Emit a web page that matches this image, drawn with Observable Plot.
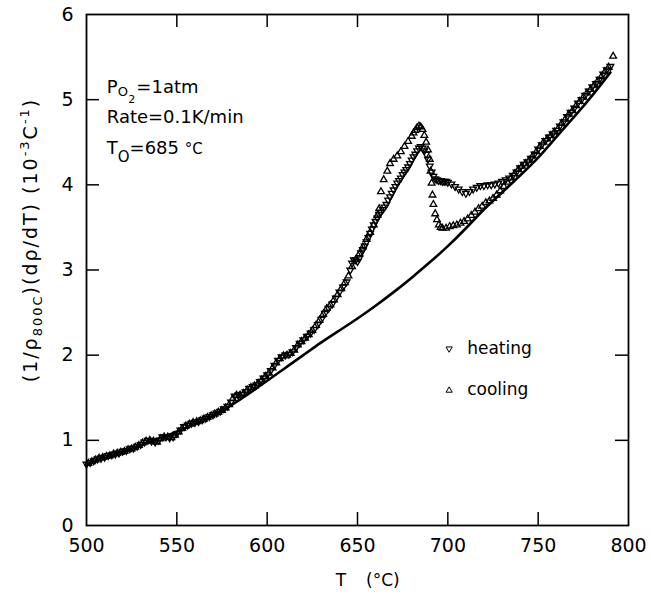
<!DOCTYPE html>
<html><head><meta charset="utf-8">
<script src="https://cdn.jsdelivr.net/npm/d3@7"></script>
<script src="https://cdn.jsdelivr.net/npm/@observablehq/plot@0.6"></script>
<style>body{margin:0;background:#fff}</style></head>
<body><div id="chart"></div>
<script>
// ---- data ----
const xTicks = [500, 550, 600, 650, 700, 750, 800];
const yTicks = [0, 1, 2, 3, 4, 5, 6];
const innerXTicks = [550, 600, 650, 700, 750];
const innerYTicks = [1, 2, 3, 4, 5];

const heatingT = [500,502,504,506,508,510,512,514,516,518,520,522,524,526,528,530,532,534,536,538,540,542,544,546,548,550,552,554,556,558,560,562,564,566,568,570,572,574,576,578,580,582,584,586,588,590,592,594,596,598,600,602,604,606,608,610,612,614,616,618,620,622,624,626,628,630,632,634,636,638,640,642,644,646,647,648,649,650,651,652,653,654,655,656,657,658,659,660,661,662,663,664,665,666,667,668,669,670,671,672,673,674,675,676,677,678,679,680,681,682,683,684,685,686,687,688,689,690,691,692,693,694,695,696,697,698,699,700,702,704,706,708,710,712,714,716,718,720,722,724,726,728,730,732,734,736,738,740,742,744,746,748,750,752,754,756,758,760,762,764,766,768,770,772,774,776,778,780,782,784,786,788,790];
const heatingV = [0.72,0.74,0.76,0.78,0.79,0.80,0.82,0.83,0.84,0.85,0.87,0.88,0.90,0.91,0.93,0.95,0.98,1.00,0.99,0.98,1.00,1.04,1.04,1.03,1.04,1.08,1.12,1.16,1.18,1.20,1.21,1.22,1.24,1.26,1.28,1.30,1.32,1.34,1.37,1.40,1.45,1.52,1.53,1.54,1.57,1.61,1.63,1.65,1.69,1.73,1.77,1.82,1.88,1.94,1.98,2.00,2.01,2.04,2.09,2.14,2.18,2.22,2.26,2.30,2.36,2.42,2.49,2.55,2.60,2.67,2.74,2.80,2.86,3.00,3.08,3.12,3.12,3.10,3.14,3.20,3.24,3.28,3.33,3.38,3.43,3.48,3.53,3.57,3.61,3.65,3.68,3.71,3.74,3.77,3.82,3.86,3.90,3.94,3.98,4.02,4.05,4.08,4.12,4.15,4.18,4.21,4.25,4.29,4.33,4.36,4.40,4.43,4.45,4.43,4.40,4.36,4.30,4.22,4.15,4.10,4.07,4.06,4.05,4.05,4.04,4.04,4.04,4.03,4.01,3.98,3.95,3.92,3.90,3.92,3.95,3.97,3.99,3.99,4.00,4.00,4.01,4.02,4.04,4.06,4.08,4.11,4.15,4.20,4.24,4.27,4.31,4.36,4.42,4.47,4.52,4.56,4.60,4.64,4.69,4.74,4.80,4.85,4.90,4.96,5.00,5.05,5.10,5.15,5.19,5.24,5.30,5.35,5.39];

const coolingT = [501,503,505,507,509,511,513,515,517,519,521,523,525,527,529,531,533,535,537,539,541,543,545,547,549,551,553,555,557,559,561,563,565,567,569,571,573,575,577,579,581,583,585,587,589,591,593,595,597,599,601,603,605,607,609,611,613,615,617,619,621,623,625,627,629,631,633,635,637,639,641,643,645,647,649,651,653,655,657,659,661,662,663,664.5,666.5,668,670,672,674,676,678,680,681,682,683,684,685,686,687,688,689,690,690.5,691,691.5,692,693,694,695,696,697,699,701,703,705,707,709,711,713,715,717,719,721,723,725,727,729,731,733,735,737,739,741,743,745,747,749,751,753,755,757,759,761,763,765,767,769,771,773,775,777,779,781,783,785,787,789,791.5];
const coolingV = [0.73,0.75,0.77,0.79,0.80,0.81,0.82,0.84,0.85,0.86,0.87,0.89,0.90,0.92,0.94,0.97,0.99,1.00,0.99,0.98,1.02,1.04,1.04,1.03,1.06,1.10,1.14,1.17,1.19,1.21,1.22,1.23,1.25,1.27,1.29,1.31,1.33,1.35,1.38,1.42,1.49,1.53,1.53,1.55,1.59,1.62,1.64,1.67,1.71,1.75,1.79,1.85,1.91,1.96,1.99,2.00,2.02,2.06,2.12,2.16,2.20,2.24,2.29,2.35,2.41,2.48,2.55,2.59,2.65,2.71,2.78,2.85,2.93,3.04,3.12,3.19,3.27,3.36,3.44,3.53,3.64,3.72,3.92,4.06,4.16,4.25,4.30,4.34,4.39,4.45,4.51,4.57,4.61,4.64,4.67,4.69,4.68,4.65,4.58,4.50,4.41,4.30,4.16,4.02,3.88,3.77,3.66,3.59,3.53,3.50,3.49,3.49,3.51,3.52,3.53,3.55,3.57,3.60,3.64,3.68,3.72,3.75,3.79,3.81,3.84,3.88,3.93,3.98,4.03,4.08,4.13,4.18,4.22,4.25,4.29,4.34,4.39,4.45,4.50,4.54,4.58,4.62,4.66,4.72,4.77,4.83,4.87,4.93,4.98,5.03,5.08,5.12,5.17,5.22,5.27,5.33,5.38,5.51];

const fitT = [500,510,520,530,540,550,560,570,580,590,600,610,620,630,640,650,660,670,680,690,700,710,720,730,740,750,760,770,780,790];
const fitV = [0.72,0.79,0.86,0.94,1.02,1.10,1.19,1.29,1.41,1.55,1.70,1.85,2.00,2.15,2.29,2.43,2.58,2.74,2.91,3.09,3.28,3.49,3.71,3.91,4.11,4.32,4.56,4.80,5.05,5.32];

const seriesNames = ["heating", "cooling"];

// ---- build ----
const heating = heatingT.map((t, i) => ({T: t, v: heatingV[i]}));
const cooling = coolingT.map((t, i) => ({T: t, v: coolingV[i]}));
const fit = fitT.map((t, i) => ({T: t, v: fitV[i]}));

const S3 = Math.sqrt(3);
const triangleDown = {
  draw(ctx, size) {
    const y = -Math.sqrt(size / (S3 * 3));
    ctx.moveTo(0, -2 * y);
    ctx.lineTo(S3 * y, y);
    ctx.lineTo(-S3 * y, y);
    ctx.closePath();
  }
};

const W = 651, H = 594, mL = 86, mR = 23, mT = 14, mB = 69;
const innerW = W - mL - mR, innerH = H - mT - mB, tickLen = 13;
const FONT = "DejaVu Sans";
const R = 2.5;

const chart = Plot.plot({
  width: W, height: H,
  marginLeft: mL, marginRight: mR, marginTop: mT, marginBottom: mB,
  x: {domain: [500, 800]},
  y: {domain: [0, 6]},
  style: {fontFamily: FONT, fontSize: "19px", background: "white", color: "black"},
  marks: [
    Plot.line(fit, {x: "T", y: "v", curve: "natural", stroke: "black", strokeWidth: 2.6}),
    Plot.dot(heating, {x: "T", y: "v", symbol: triangleDown, r: R, stroke: "black", fill: "none", strokeWidth: 1.3}),
    Plot.dot(cooling, {x: "T", y: "v", symbol: "triangle", r: R, stroke: "black", fill: "none", strokeWidth: 1.3}),
    Plot.tickX(innerXTicks, {x: d => d, insetTop: innerH - tickLen, stroke: "black", strokeWidth: 1.5}),
    Plot.tickX(innerXTicks, {x: d => d, insetBottom: innerH - tickLen, stroke: "black", strokeWidth: 1.5}),
    Plot.tickY(innerYTicks, {y: d => d, insetRight: innerW - tickLen, stroke: "black", strokeWidth: 1.5}),
    Plot.tickY(innerYTicks, {y: d => d, insetLeft: innerW - tickLen, stroke: "black", strokeWidth: 1.5}),
    Plot.frame({stroke: "black", strokeWidth: 1.8}),
    Plot.axisX(xTicks, {tickSize: 0, tickPadding: 13, label: null, fontSize: 19, tickFormat: d => String(d)}),
    Plot.axisY(yTicks, {tickSize: 0, tickPadding: 13, label: null, fontSize: 19, tickFormat: d => String(d)})
  ]
});

document.getElementById("chart").appendChild(chart);

const sx = chart.scale("x"), sy = chart.scale("y");
const svg = d3.select(chart);
const g = svg.append("g").attr("font-family", FONT).attr("fill", "black").attr("text-anchor", "start");

function richText(x, y, parts, size, extra) {
  const t = g.append("text").attr("x", x).attr("y", y).attr("font-size", size).attr("text-anchor", "start");
  if (extra) extra(t);
  for (const [s, dy, fs, dx] of parts) {
    const sp = t.append("tspan").text(s);
    if (dy) sp.attr("dy", dy);
    if (dx) sp.attr("dx", dx);
    if (fs) sp.attr("font-size", fs);
  }
  return t;
}

// annotation block (anchored in data coordinates)
const annX = sx.apply(511.5);
richText(annX, sy.apply(5.07), [["P"], ["O", 3, 13], ["2", 7, 11, 0.5], ["=1atm", -10, 18, 1]], 18);
richText(annX, sy.apply(4.72), [["Rate=0.1K/min"]], 18);
richText(annX, sy.apply(4.36), [["T"], ["O", 8, 15], ["=685 ", -8, 18], ["°C", 0, 15]], 18);

// legend
const legX = sx.apply(701), legTx = sx.apply(711);
[[2.07, triangleDown, seriesNames[0]], [1.58, d3.symbolTriangle, seriesNames[1]]].forEach(([v, sym, name]) => {
  const yy = sy.apply(v);
  g.append("path").attr("d", d3.symbol(sym, Math.PI * 2.3 * 2.3)()).attr("transform", `translate(${legX},${yy})`)
    .attr("fill", "none").attr("stroke", "black").attr("stroke-width", 1);
  g.append("text").attr("x", legTx).attr("y", yy + 5).attr("font-size", 17).text(name);
});

// x axis label
g.append("text").attr("x", 341).attr("y", 586).attr("font-size", 17).attr("text-anchor", "middle").text("T");
g.append("text").attr("x", 366).attr("y", 586).attr("font-size", 17).text("(°C)");

// y axis label
richText(0, 0, [["(1/ρ"], ["800C", 5, 13], [")(dρ/dT) (10", -5, 19], ["-3", -8, 13], ["C", 8, 19], ["-1", -8, 13], [")", 8, 19]], 19,
  t => t.attr("transform", `translate(37,${mT + 226}) rotate(-90)`).attr("text-anchor", "middle").attr("letter-spacing", 2));
</script>
</body></html>
